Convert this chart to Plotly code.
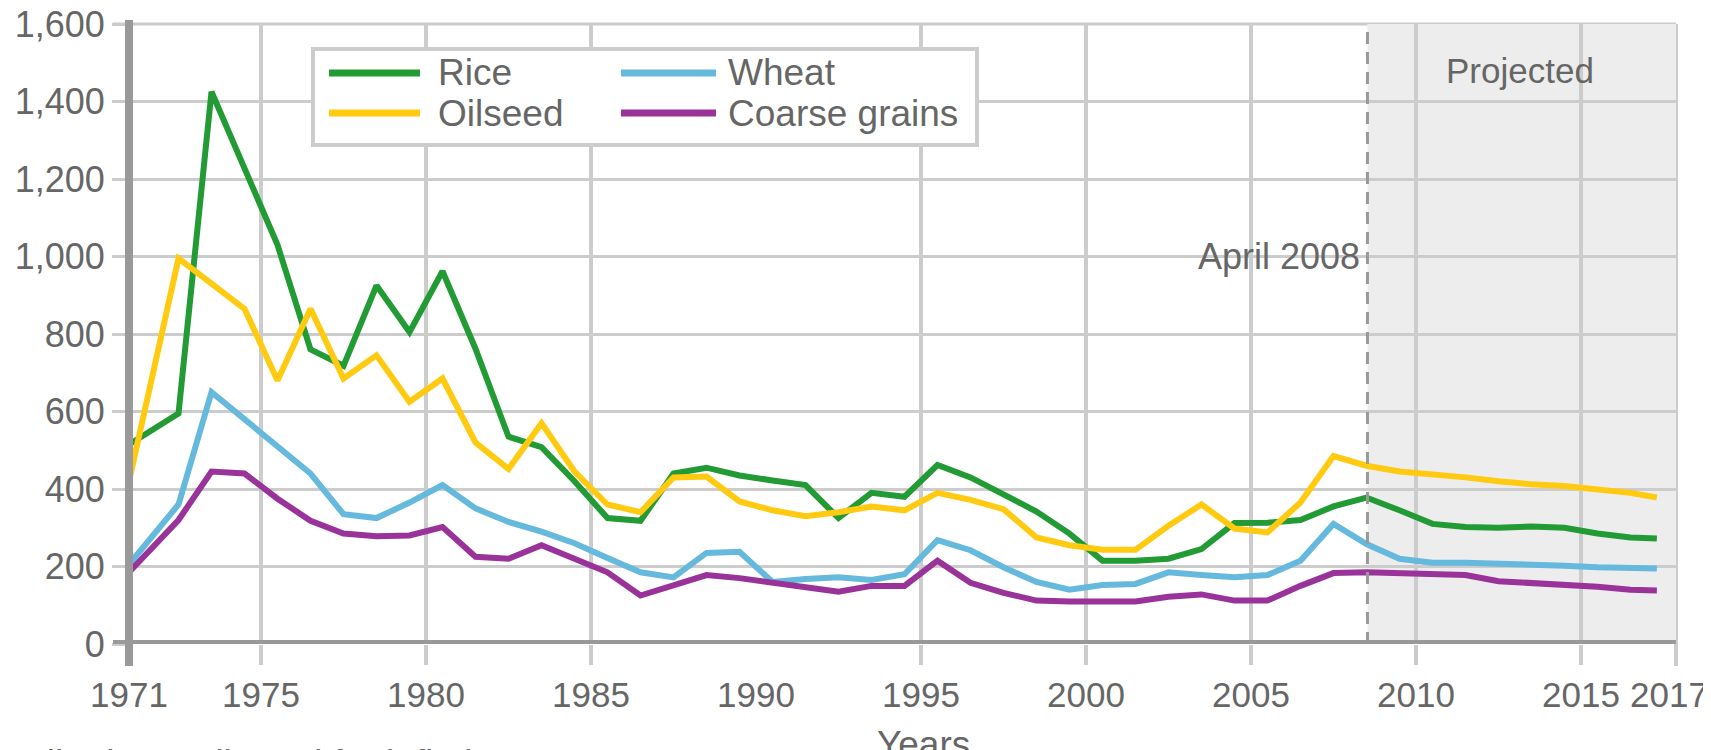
import plotly.graph_objects as go

# x positions of the plotted points (years)
years = [1971.0, 1972.5, 1973.5, 1974.5, 1975.5, 1976.5, 1977.5, 1978.5, 1979.5, 1980.5,
         1981.5, 1982.5, 1983.5, 1984.5, 1985.5, 1986.5, 1987.5, 1988.5, 1989.5, 1990.5,
         1991.5, 1992.5, 1993.5, 1994.5, 1995.5, 1996.5, 1997.5, 1998.5, 1999.5, 2000.5,
         2001.5, 2002.5, 2003.5, 2004.5, 2005.5, 2006.5, 2007.5, 2008.5, 2009.5, 2010.5,
         2011.5, 2012.5, 2013.5, 2014.5, 2015.5, 2016.5, 2017.3]

rice = [515, 595, 1425, 1230, 1030, 760, 718, 925, 805, 962,
        762, 535, 508, 420, 325, 318, 440, 455, 435, 422,
        410, 325, 390, 380, 462, 430, 388, 342, 285, 215,
        215, 220, 245, 312, 313, 320, 355, 378, 345, 310,
        302, 300, 303, 300, 285, 275, 272]
oilseed = [420, 995, 930, 865, 680, 865, 685, 745, 625, 685,
           520, 452, 570, 445, 360, 340, 430, 432, 368, 345,
           330, 340, 355, 345, 390, 372, 348, 275, 255, 243,
           243, 305, 360, 298, 288, 365, 485, 460, 445, 438,
           430, 420, 412, 408, 398, 390, 378]
wheat = [205, 360, 650, 580, 510, 440, 335, 325, 365, 410,
         350, 315, 290, 260, 222, 185, 172, 235, 238, 160,
         168, 172, 165, 180, 268, 242, 198, 160, 140, 152,
         155, 185, 178, 172, 178, 215, 310, 258, 220, 210,
         210, 208, 206, 202, 198, 195, 195]
coarse = [185, 320, 445, 440, 375, 318, 285, 278, 280, 302,
          225, 220, 255, 222, 185, 125, 152, 178, 170, 158,
          148, 135, 150, 150, 215, 158, 132, 112, 110, 110,
          110, 122, 128, 112, 112, 150, 183, 185, 182, 180,
          178, 162, 158, 155, 148, 140, 138]

names = ['Rice', 'Oilseed', 'Wheat', 'Coarse grains']
colors = ['#239b35', '#ffca10', '#65b9dd', '#99339a']
series = [rice, oilseed, wheat, coarse]

x_end = 2017.88
grid_years = [1971, 1975, 1980, 1985, 1995, 2000, 2005, 2010, 2015, x_end]
grid_text = ['1971', '1975', '1980', '1985', '1995', '2000', '2005', '2010', '2015', '']
y_ticks = [0, 200, 400, 600, 800, 1000, 1200, 1400, 1600]
april_2008 = 2008.53

FONT = 'Liberation Sans, Arial, sans-serif'
TXT = '#666666'

# the page body adds an 8px margin, so the figure is 8px smaller and
# pixel positions below are given in page coordinates
PAGE_OFF = 8
W, H = 1711 - PAGE_OFF, 750 - PAGE_OFF
L, R, T, B = 129, 1676, 24, 644   # plot area on the page
def px(x):
    return (x - L) / (R - L)
def py(y):
    return (B - y) / (B - T)

fig = go.Figure()
for name, vals, col in zip(names, series, colors):
    fig.add_trace(go.Scatter(x=years, y=vals, name=name, mode='lines',
                             line=dict(color=col, width=6), showlegend=False))

shapes = []
# projected zone
shapes.append(dict(type='rect', xref='x', yref='y', x0=april_2008, x1=x_end, y0=0, y1=1600,
                   fillcolor='#ededed', line=dict(width=0), layer='below'))
shapes.append(dict(type='line', xref='x', yref='y', x0=april_2008, x1=april_2008, y0=0, y1=1600,
                   line=dict(color='#999999', width=3, dash='12px,8px'), layer='above'))
# right and top border (edge gridlines + ticks)
shapes.append(dict(type='line', xref='paper', yref='paper', x0=1, x1=1, y0=py(666), y1=1,
                   line=dict(color='#cccccc', width=4), layer='below'))
shapes.append(dict(type='line', xref='paper', yref='paper', x0=px(113), x1=1, y0=1, y1=1,
                   line=dict(color='#cccccc', width=3), layer='below'))
# axes
shapes.append(dict(type='line', xref='paper', yref='paper', x0=0, x1=0, y0=py(666), y1=py(20),
                   line=dict(color='#999999', width=8), layer='above'))
shapes.append(dict(type='line', xref='paper', yref='y', x0=px(113), x1=1, y0=0, y1=0,
                   line=dict(color='#999999', width=8), layer='above'))

# legend box
shapes.append(dict(type='rect', xref='paper', yref='paper', x0=px(313), x1=px(977), y0=py(145), y1=py(49),
                   fillcolor='white', line=dict(color='#cccccc', width=4), layer='above'))
annotations = []
slots = [(329, 420, 436, 73), (329, 420, 436, 113), (621, 716, 726, 73), (621, 716, 726, 113)]
for (x0, x1, xt, yy), name, col in zip(slots, names, colors):
    shapes.append(dict(type='line', xref='paper', yref='paper', x0=px(x0), x1=px(x1), y0=py(yy), y1=py(yy),
                       line=dict(color=col, width=7), layer='above'))
    annotations.append(dict(text=name, xref='paper', yref='paper', x=px(xt), y=py(yy),
                            xanchor='left', yanchor='middle', showarrow=False,
                            font=dict(family=FONT, size=37, color=TXT)))

tick_font = dict(family=FONT, size=35, color=TXT)
annotations += [
    dict(text='Projected', xref='paper', yref='paper', x=px(1520), y=py(70), xanchor='center',
         yanchor='middle', showarrow=False, font=dict(family=FONT, size=35, color=TXT)),
    dict(text='April 2008', xref='x', yref='y', x=april_2008, y=1000, xanchor='right', xshift=-5,
         yanchor='middle', showarrow=False, font=dict(family=FONT, size=36, color=TXT)),
    # x labels that have no gridline of their own
    dict(text='1990', xref='x', yref='paper', x=1990, y=0, xanchor='center', yanchor='top', yshift=-29,
         showarrow=False, font=tick_font),
    dict(text='2017', xref='paper', yref='paper', x=1, y=0, xanchor='right', xshift=34, yanchor='top',
         yshift=-29, showarrow=False, font=tick_font),
    dict(text='Years', xref='paper', yref='paper', x=px(924), y=py(722), xanchor='center', yanchor='top',
         showarrow=False, font=dict(family=FONT, size=37, color=TXT)),
    dict(text='All prices adjusted for inflation', xref='paper', yref='paper', x=px(20), y=py(741),
         xanchor='left', yanchor='top', showarrow=False, font=dict(family=FONT, size=37, color=TXT)),
]

fig.update_layout(
    width=W, height=H,
    margin=dict(l=L - PAGE_OFF, r=W - (R - PAGE_OFF), t=T - PAGE_OFF, b=H - (B - PAGE_OFF)),
    paper_bgcolor='white', plot_bgcolor='white',
    shapes=shapes, annotations=annotations,
    xaxis=dict(range=[1971, x_end], tickmode='array', tickvals=grid_years, ticktext=grid_text,
               showgrid=True, gridcolor='#cccccc', gridwidth=4, zeroline=False, showline=False,
               ticks='outside', ticklen=20, tickcolor='#cccccc', tickwidth=4, automargin=False,
               ticklabeloverflow='allow', tickfont=tick_font),
    yaxis=dict(range=[0, 1600], tickmode='array', tickvals=y_ticks, tickformat=',d',
               showgrid=True, gridcolor='#cccccc', gridwidth=3, zeroline=False, showline=False,
               ticks='outside', ticklen=16, tickcolor='#cccccc', tickwidth=3, automargin=False,
               ticklabeloverflow='allow', tickfont=dict(family=FONT, size=36, color=TXT)),
)

fig.write_html('out.html')
